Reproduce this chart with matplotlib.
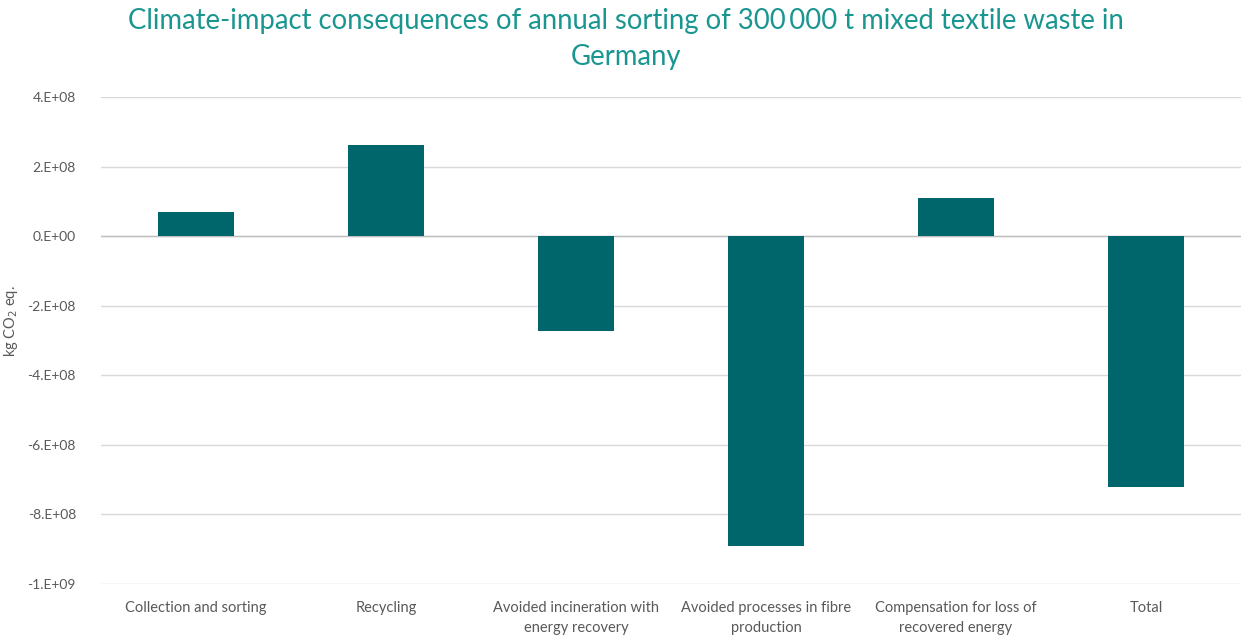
import numpy as np
import matplotlib.pyplot as plt
from matplotlib.ticker import FixedLocator

plt.rcParams['font.family'] = ['Lato', 'DejaVu Sans']

categories = ['Collection and sorting', 'Recycling',
              'Avoided incineration with\nenergy recovery',
              'Avoided processes in fibre\nproduction',
              'Compensation for loss of\nrecovered energy', 'Total']
values = [6.9e7, 2.62e8, -2.73e8, -8.91e8, 1.09e8, -7.21e8]
yticks = [4e8, 2e8, 0, -2e8, -4e8, -6e8, -8e8, -1e9]
ytick_labels = ['4.E+08', '2.E+08', '0.E+00', '-2.E+08', '-4.E+08',
                '-6.E+08', '-8.E+08', '-1.E+09']

bar_color = '#00666B'
title_color = '#1A9690'
text_color = '#595959'

fig = plt.figure(figsize=(12.51, 6.42), dpi=100)
ax = fig.add_axes([0.0807, 0.0903, 0.9113, 0.7587])

x = np.arange(len(categories))
ax.bar(x, values, width=0.4, color=bar_color, zorder=3)

ax.set_xlim(-0.5, len(categories) - 0.5)
ax.set_ylim(-1e9, 4e8)
ax.yaxis.set_major_locator(FixedLocator(yticks))
ax.set_yticklabels(ytick_labels)
ax.set_xticks(x)
ax.set_xticklabels(categories, linespacing=1.55)
ax.tick_params(axis='both', length=0, labelsize=10.5, colors=text_color)
ax.tick_params(axis='y', labelsize=10, pad=18)
ax.tick_params(axis='x', pad=12)

ax.grid(axis='y', color='#D9D9D9', linewidth=1, zorder=0)
ax.axhline(0, color='#BFBFBF', linewidth=1, zorder=2)
for s in ax.spines.values():
    s.set_visible(False)

ax.set_ylabel('kg CO$_2$ eq.', fontsize=10.5, color=text_color)
ax.yaxis.set_label_coords(-0.071, 0.54)

fig.text(0.5, 0.988, 'Climate-impact consequences of annual sorting of 300\u2009000 t mixed textile waste in\nGermany',
         ha='center', va='top', fontsize=19.8, color=title_color, linespacing=1.5)

fig.savefig('out.png', dpi=100, facecolor='white')
